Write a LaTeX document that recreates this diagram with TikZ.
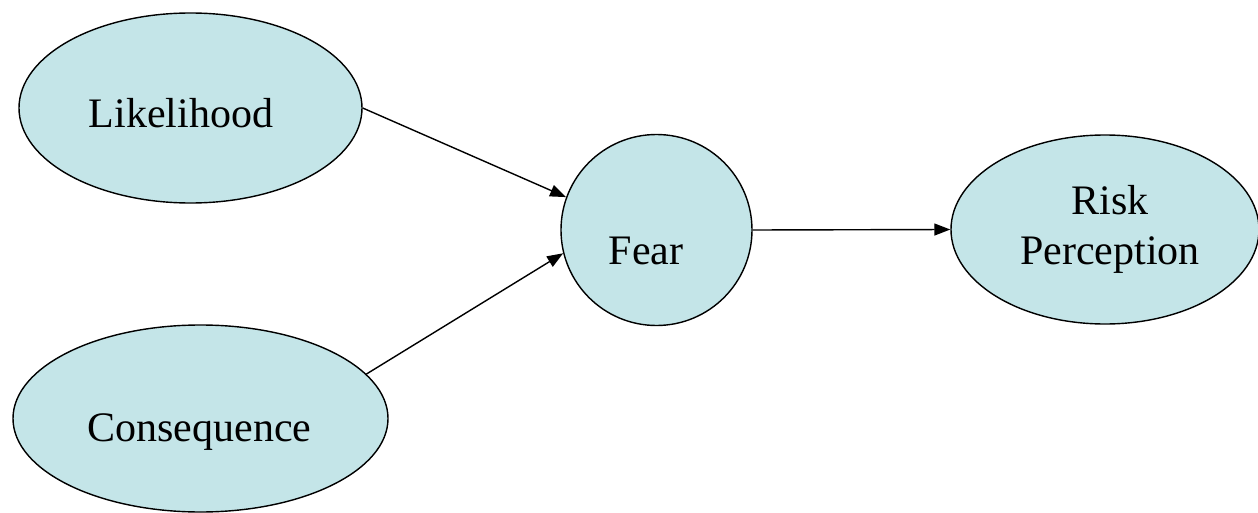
\documentclass[tikz,border=0pt]{standalone}
\usepackage{fontspec}
\setmainfont{Liberation Serif}
\usetikzlibrary{arrows.meta,shapes.geometric}
\definecolor{bubble}{RGB}{196,229,232}

\begin{document}
\begin{tikzpicture}[
  x=0.2mm, y=-0.2mm,
  blob/.style={ellipse, draw=black, fill=bubble, line width=0.8pt, inner sep=0pt},
  link/.style={-{Triangle[length=3.2mm,width=2.4mm]}, line width=0.8pt},
  every label/.style={font=\fontsize{23.9}{28.5}\selectfont, align=center}]

\useasboundingbox (0,0) rectangle (1258,513);

% ---- the two inputs -----------------------------------------------------
\node[blob, minimum width=6.86cm, minimum height=3.8cm,
      label={[shift={(-9.5,5.5)}]center:Likelihood}]  (like) at (190.5,108)   {};
\node[blob, minimum width=7.5cm, minimum height=3.74cm,
      label={[shift={(-1,14)}]center:Consequence}]   (cons) at (200.5,418.5) {};

% ---- the mediator and the outcome ---------------------------------------
\node[blob, circle, minimum size=3.82cm,
      label={[shift={(-10.5,21)}]center:Fear}]        (fear) at (656.5,230)   {};
\node[blob, minimum width=6.16cm, minimum height=3.78cm,
      label={[shift={(5,0)}]center:Risk\\Perception}] (risk) at (1105,229.5)  {};

% ---- the paths -----------------------------------------------------------
\draw[link] (like.east) -- (fear.160);
\draw[link] (cons.15)   -- (fear.194);
\draw[link] (fear.east) -- (risk.west);

\end{tikzpicture}
\end{document}
